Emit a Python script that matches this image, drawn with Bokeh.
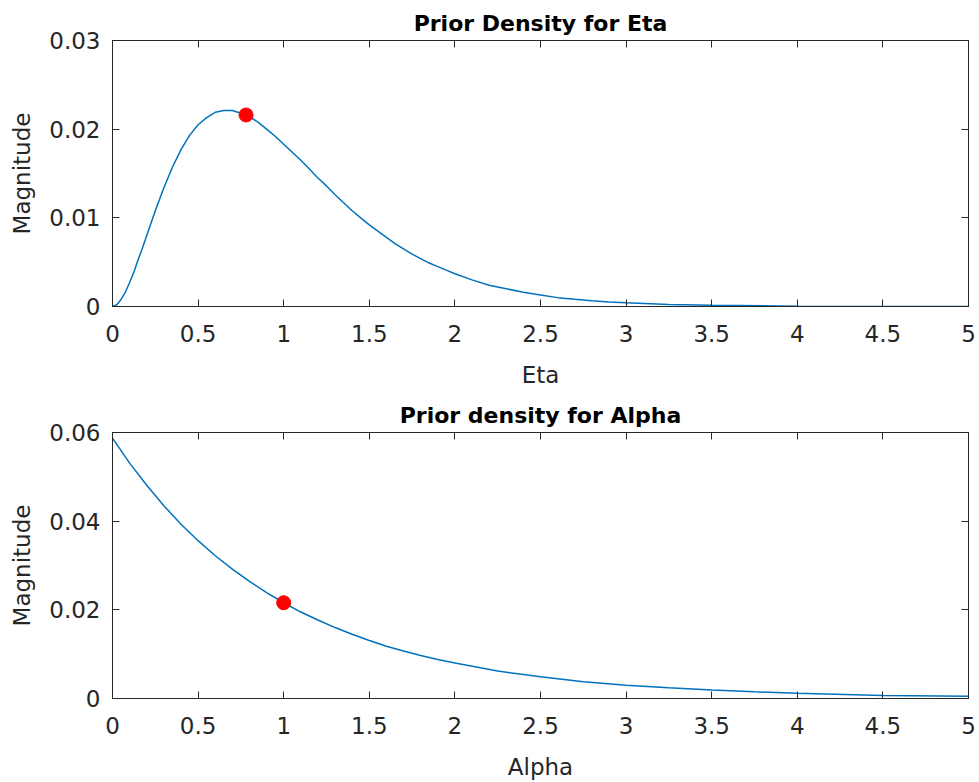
from bokeh.plotting import figure
from bokeh.layouts import column
from bokeh.models import Range1d, FixedTicker, LinearAxis
from bokeh.embed import file_html
from bokeh.resources import INLINE

# ---- data ----
eta_x = [0, 0.025, 0.05, 0.075, 0.1, 0.125, 0.15, 0.175, 0.2, 0.25, 0.3, 0.35, 0.4, 0.45,
         0.5, 0.55, 0.6, 0.65, 0.7, 0.75, 0.8, 0.85, 0.9, 0.95, 1.0, 1.05, 1.1, 1.15, 1.2,
         1.25, 1.3, 1.35, 1.4, 1.45, 1.5, 1.55, 1.6, 1.65, 1.7, 1.75, 1.8, 1.85, 1.9, 1.95,
         2.0, 2.1, 2.2, 2.3, 2.4, 2.5, 2.6, 2.7, 2.8, 2.9, 3.0, 3.25, 3.5, 4.0, 4.5, 5.0]
eta_y = [0.0, 0.0002, 0.0008, 0.0016, 0.0027, 0.0039, 0.0053, 0.0066, 0.0080, 0.0108,
         0.0134, 0.0157, 0.0177, 0.0193, 0.0205, 0.0213, 0.0219, 0.0221, 0.0221, 0.0218,
         0.0214, 0.0208, 0.0200, 0.0192, 0.0183, 0.0174, 0.0165, 0.0155, 0.0145, 0.0136,
         0.0126, 0.0117, 0.0108, 0.0100, 0.0092, 0.0085, 0.0078, 0.0071, 0.0065, 0.0059,
         0.0054, 0.0049, 0.0045, 0.0041, 0.0037, 0.0030, 0.0024, 0.0020, 0.0016, 0.0013,
         0.0010, 0.00082, 0.00066, 0.00052, 0.00041, 0.00023, 0.00013, 0.00004, 0.00001,
         0.000003]
eta_point_x = [0.78]
eta_point_y = [0.0216]

alpha_x = [0, 0.1, 0.2, 0.3, 0.4, 0.5, 0.6, 0.7, 0.8, 0.9, 1.0, 1.1, 1.2, 1.3, 1.4, 1.5,
           1.6, 1.7, 1.8, 1.9, 2.0, 2.25, 2.5, 2.75, 3.0, 3.25, 3.5, 3.75, 4.0, 4.5, 5.0]
alpha_y = [0.0587, 0.0531, 0.0481, 0.0435, 0.0393, 0.0356, 0.0322, 0.0292, 0.0264, 0.0239,
           0.0216, 0.0195, 0.0177, 0.0160, 0.0145, 0.0131, 0.0118, 0.0107, 0.0097, 0.0088,
           0.0080, 0.0062, 0.0049, 0.0038, 0.0030, 0.0024, 0.0019, 0.0015, 0.0012, 0.0007,
           0.0005]
alpha_point_x = [1.0]
alpha_point_y = [0.0216]

x_ticks = [0, 0.5, 1, 1.5, 2, 2.5, 3, 3.5, 4, 4.5, 5]
x_tick_labels = ["0", "0.5", "1", "1.5", "2", "2.5", "3", "3.5", "4", "4.5", "5"]
eta_y_ticks = [0, 0.01, 0.02, 0.03]
eta_y_labels = ["0", "0.01", "0.02", "0.03"]
alpha_y_ticks = [0, 0.02, 0.04, 0.06]
alpha_y_labels = ["0", "0.02", "0.04", "0.06"]

FONT = "DejaVu Sans"
AX = "#262626"
LINE = "#0072BD"


def style_axis(ax, show_labels):
    ax.axis_line_color = AX
    ax.axis_line_width = 1
    ax.major_tick_line_color = AX
    ax.major_tick_in = 7
    ax.major_tick_out = 0
    ax.minor_tick_line_color = None
    ax.major_label_text_font = FONT
    ax.major_label_text_color = AX
    if show_labels:
        ax.major_label_text_font_size = "23px"
    else:
        ax.major_label_text_font_size = "0px"
        ax.major_label_standoff = 0


def make_plot(title, xlabel, xs, ys, px, py, ymax, yticks, ylabels, height, top_border, bottom_border):
    p = figure(width=976, height=height, output_backend="svg", toolbar_location=None,
               x_range=Range1d(0, 5), y_range=Range1d(0, ymax),
               min_border_left=112, min_border_right=8,
               min_border_top=top_border, min_border_bottom=bottom_border)
    p.title.text = title
    p.title.text_font = FONT
    p.title.text_font_size = "22px"
    p.title.text_font_style = "bold"
    p.title.text_color = "black"
    p.title.align = "center"
    p.title.standoff = 9
    p.title.offset = 0
    p.grid.visible = False
    p.outline_line_color = AX
    p.outline_line_width = 1
    p.background_fill_color = "white"
    p.border_fill_color = "white"

    p.xaxis.ticker = FixedTicker(ticks=x_ticks)
    p.xaxis.major_label_overrides = dict(zip(x_ticks, x_tick_labels))
    p.yaxis.ticker = FixedTicker(ticks=yticks)
    p.yaxis.major_label_overrides = dict(zip(yticks, ylabels))
    p.xaxis.axis_label = xlabel
    p.yaxis.axis_label = "Magnitude"
    for ax in (p.xaxis[0], p.yaxis[0]):
        style_axis(ax, True)
        ax.axis_label_text_font = FONT
        ax.axis_label_text_font_size = "23px"
        ax.axis_label_text_font_style = "normal"
        ax.axis_label_text_color = AX
    p.xaxis.major_label_standoff = 18
    p.xaxis.axis_label_standoff = 17
    p.yaxis.major_label_standoff = 12
    p.yaxis.axis_label_standoff = 11

    top = LinearAxis(ticker=FixedTicker(ticks=x_ticks))
    right = LinearAxis(ticker=FixedTicker(ticks=yticks))
    style_axis(top, False)
    style_axis(right, False)
    p.add_layout(top, "above")
    p.add_layout(right, "right")

    p.line(xs, ys, line_color=LINE, line_width=1.5)
    p.scatter(px, py, size=14, fill_color="red", line_color="red")
    return p


p1 = make_plot("Prior Density for Eta", "Eta", eta_x, eta_y, eta_point_x, eta_point_y,
               0.03, eta_y_ticks, eta_y_labels, 392, 40, 86)
p2 = make_plot("Prior density for Alpha", "Alpha", alpha_x, alpha_y, alpha_point_x, alpha_point_y,
               0.06, alpha_y_ticks, alpha_y_labels, 390, 40, 84)

layout = column(p1, p2, spacing=0)
open("out.html", "w").write(file_html(layout, INLINE))
